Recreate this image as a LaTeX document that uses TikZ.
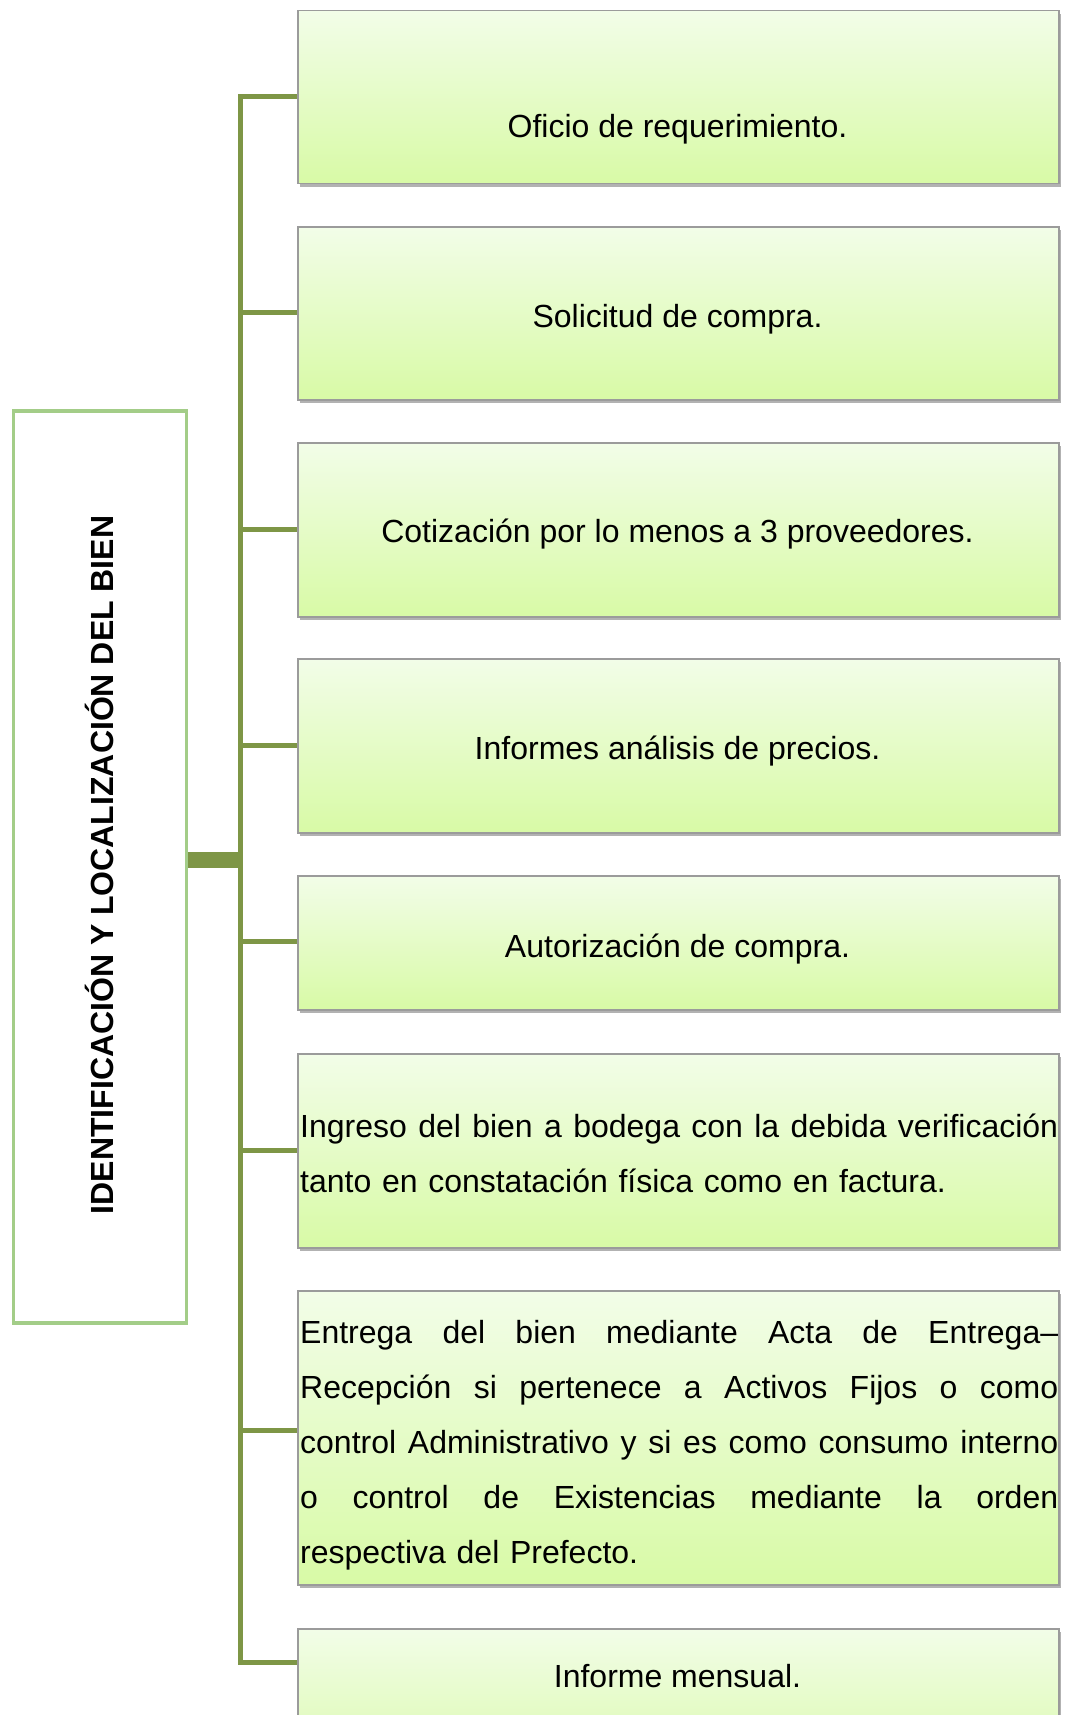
\documentclass[tikz,border=0pt]{standalone}
\usepackage{fontspec}
\setmainfont{Liberation Sans}
\usetikzlibrary{shadows}
\definecolor{conncol}{RGB}{126,150,70}
\definecolor{leftcol}{RGB}{163,205,136}
\definecolor{boxtop}{RGB}{242,253,232}
\definecolor{boxbot}{RGB}{216,250,166}
\definecolor{boxline}{RGB}{155,155,155}
\newcommand{\jline}[1]{\leavevmode\hbox to 758pt{\spaceskip=0.278em plus 1fil\relax #1}}
\begin{document}
\begin{tikzpicture}[x=1pt,y=-1pt,
  bx/.style={draw=boxline, line width=1.5pt, top color=boxtop, bottom color=boxbot,
    minimum width=761pt, anchor=north west, inner sep=0pt,
    drop shadow={shadow xshift=2pt, shadow yshift=-3pt, fill=black, opacity=0.3}},
  leftbox/.style={draw=leftcol, line width=3.5pt, fill=white, anchor=north west,
    minimum width=173pt, minimum height=912pt, inner sep=0pt},
  conn/.style={draw=conncol, line width=5pt},
  txt/.style={font=\fontsize{32}{38}\selectfont, anchor=base, inner sep=0pt},
  para/.style={font=\fontsize{32}{55}\selectfont, anchor=base west, inner sep=0pt, text width=758pt},
  maintxt/.style={font=\bfseries\fontsize{32}{38}\selectfont, anchor=base, inner sep=0pt, rotate=90}
]
\useasboundingbox (0,0) rectangle (1065,1715);
\clip (0,0) rectangle (1065,1715);

% trunk junctions
\coordinate (j1) at (240,96.5);
\coordinate (j2) at (240,312.5);
\coordinate (j3) at (240,529);
\coordinate (j4) at (240,745);
\coordinate (j5) at (240,941.5);
\coordinate (j6) at (240,1150);
\coordinate (j7) at (240,1430);
\coordinate (j8) at (240,1662);
\coordinate (jm) at (240,860);

% boxes
\node[leftbox] (main) at (11.5,409) {};
\node[bx, minimum height=173pt] (b1) at (297,10) {};
\node[bx, minimum height=173pt] (b2) at (297,226) {};
\node[bx, minimum height=174pt] (b3) at (297,442) {};
\node[bx, minimum height=174pt] (b4) at (297,658) {};
\node[bx, minimum height=134pt] (b5) at (297,875) {};
\node[bx, minimum height=194pt] (b6) at (297,1053) {};
\node[bx, minimum height=294pt] (b7) at (297,1290) {};
\node[bx, minimum height=160pt] (b8) at (297,1628) {};

% connectors
\draw[conn, line join=miter] (j1 -| b1.west) -- (j1) -- (j8) -- (j8 -| b8.west);
\draw[conn] (j2) -- (j2 -| b2.west);
\draw[conn] (j3) -- (j3 -| b3.west);
\draw[conn] (j4) -- (j4 -| b4.west);
\draw[conn] (j5) -- (j5 -| b5.west);
\draw[conn] (j6) -- (j6 -| b6.west);
\draw[conn] (j7) -- (j7 -| b7.west);
\draw[conn, line width=16pt] (jm -| main.east) -- ([xshift=2.5pt]jm);

% texts
\node[maintxt] (mt) at (113,865) {IDENTIFICACIÓN Y LOCALIZACIÓN DEL BIEN};
\node[txt] (t1) at (677.5,138) {Oficio de requerimiento.};
\node[txt] (t2) at (677.5,327) {Solicitud de compra.};
\node[txt] (t3) at (677.5,542.5) {Cotización por lo menos a 3 proveedores.};
\node[txt] (t4) at (677.5,759.5) {Informes análisis de precios.};
\node[txt] (t5) at (677.5,957.5) {Autorización de compra.};
\node[para] (t6) at (300,1137.5) {\jline{Ingreso del bien a bodega con la debida verificación}\\
tanto en constatación física como en factura.};
\node[para] (t7) at (300,1343) {\jline{Entrega del bien mediante Acta de Entrega–}\\
\jline{Recepción si pertenece a Activos Fijos o como}\\
\jline{control Administrativo y si es como consumo interno}\\
\jline{o control de Existencias mediante la orden}\\
respectiva del Prefecto.};
\node[txt] (t8) at (677.5,1687) {Informe mensual.};
\end{tikzpicture}
\end{document}
